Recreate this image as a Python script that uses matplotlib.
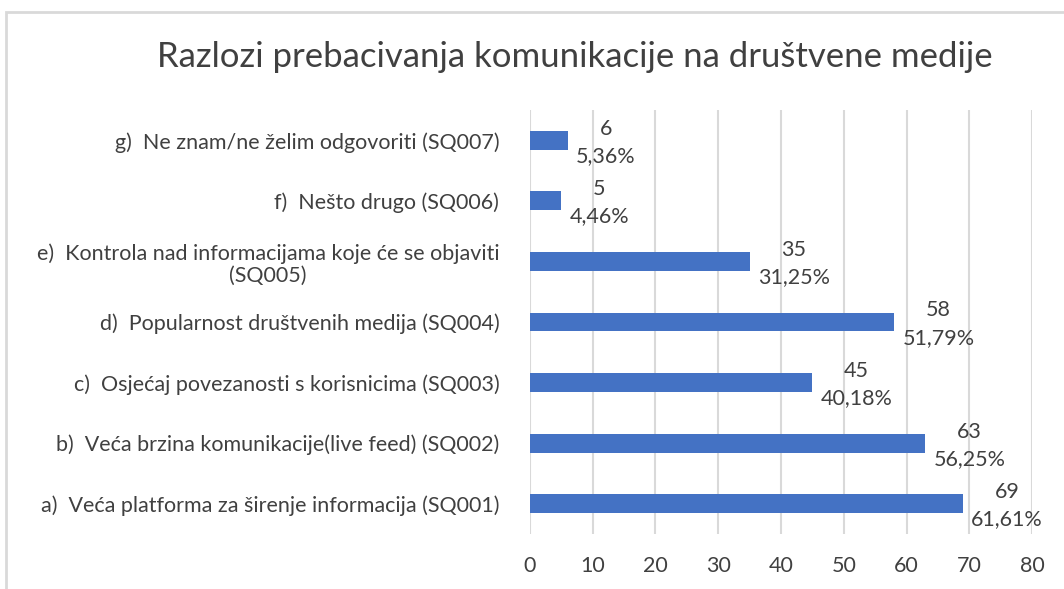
import matplotlib.pyplot as plt
from matplotlib.patches import Rectangle

categories = [
    "a)  Veća platforma za širenje informacija (SQ001)",
    "b)  Veća brzina komunikacije(live feed) (SQ002)",
    "c)  Osjećaj povezanosti s korisnicima (SQ003)",
    "d)  Popularnost društvenih medija (SQ004)",
    "e)  Kontrola nad informacijama koje će se objaviti\n(SQ005)",
    "f)  Nešto drugo (SQ006)",
    "g)  Ne znam/ne želim odgovoriti (SQ007)",
]
counts = [69, 63, 45, 58, 35, 5, 6]
percents = ["61,61%", "56,25%", "40,18%", "51,79%", "31,25%", "4,46%", "5,36%"]
xticks = [0, 10, 20, 30, 40, 50, 60, 70, 80]

plt.rcParams['font.family'] = ['Lato', 'DejaVu Sans']

fig = plt.figure(figsize=(10.64, 5.89), dpi=100)
ax = fig.add_axes([0.498, 0.0934, 0.472, 0.7198])

# light grey chart border (top and left edges visible)
fig.patches.append(Rectangle((6 / 1064, -0.1), 1.2, 1.1 - 12 / 589,
                             transform=fig.transFigure, fill=False,
                             edgecolor="#d9d9d9", linewidth=2))

pos = list(range(len(categories)))
ax.barh(pos, counts, height=0.31, color="#4472C4", zorder=3)

for y, c, p in zip(pos, counts, percents):
    ax.annotate(f"{c}\n{p}", xy=(c, y), xytext=(6, -1.5), textcoords="offset points",
                ha="left", va="center", multialignment="center",
                fontsize=15.5, color="#404040", linespacing=1.45, zorder=4)

ax.set_xlim(0, 80)
ax.set_ylim(-0.5, 6.5)
ax.set_xticks(xticks)
ax.set_yticks(pos)
ax.set_yticklabels(categories, multialignment="center", linespacing=1.15)
ax.xaxis.grid(True, color="#d9d9d9", linewidth=1.5, zorder=0)
ax.tick_params(axis="both", length=0, labelsize=15.5, labelcolor="#404040")
ax.tick_params(axis="y", pad=22)
ax.tick_params(axis="x", pad=16)
for s in ax.spines.values():
    s.set_visible(False)

fig.text(0.54, 0.903, "Razlozi prebacivanja komunikacije na društvene medije",
         ha="center", va="center", fontsize=25, color="#404040")

fig.savefig("out.png", dpi=100)
